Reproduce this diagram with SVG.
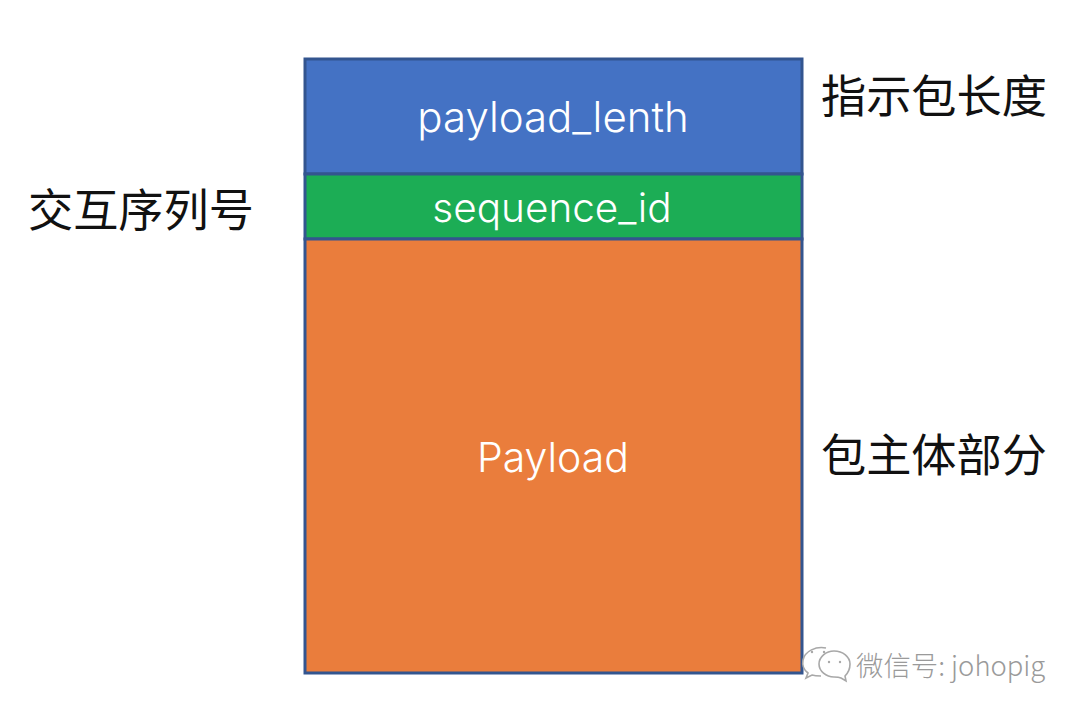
<svg xmlns="http://www.w3.org/2000/svg" width="1080" height="714" viewBox="0 0 1080 714">
<style>
.b{stroke:#33558f;stroke-width:3}
.w{fill:#fff;font-family:"Inter","Noto Sans",sans-serif;font-weight:300;text-anchor:middle}
.z{fill:#111;font-family:"Noto Sans CJK SC",sans-serif;font-size:45.2px}
.i{fill:#fff;stroke:#a8a8a8;stroke-width:1.6}
</style>
<rect width="1080" height="714" fill="#fff"/>
<g id="payload_lenth"><rect class="b" x="305" y="59" width="497" height="115" fill="#4472c4"/><text class="w" x="553" y="132" font-size="42">payload_lenth</text></g>
<g id="sequence_id"><rect class="b" x="305" y="174" width="497" height="65" fill="#1cad55"/><text class="w" x="552" y="222" font-size="40.5">sequence_id</text></g>
<g id="payload"><rect class="b" x="305" y="239" width="497" height="434" fill="#ea7d3c"/><text class="w" x="553" y="472" font-size="41">Payload</text></g>
<g id="connectors"/>
<g id="l1"><text class="z" x="821" y="113">指示包长度</text></g>
<g id="l2"><text class="z" x="28" y="227">交互序列号</text></g>
<g id="l3"><text class="z" x="821" y="472">包主体部分</text></g>
<g id="wm">
<path class="i" d="M826 648c-10-2-21 3-23 12-1 5 1 10 5 13l-2 5 6-3c3 1 6 1 9 1"/>
<path class="i" d="M834 651c-8 0-15 6-15 13s7 13 15 13c3 0 5 0 7 1l5 3-1-5c3-3 5-7 5-12 0-7-7-13-16-13z"/>
<circle cx="812" cy="652" r="1.2" fill="#a8a8a8"/><circle cx="824" cy="652" r="1.2" fill="#a8a8a8"/>
<circle cx="829" cy="662" r="1.2" fill="#a8a8a8"/><circle cx="840" cy="662" r="1.2" fill="#a8a8a8"/>
<text x="856" y="676" font-size="27.4" font-weight="300" fill="#9a9a9a" font-family="Noto Sans CJK SC,sans-serif">微信号: johopig</text></g>
</svg>
